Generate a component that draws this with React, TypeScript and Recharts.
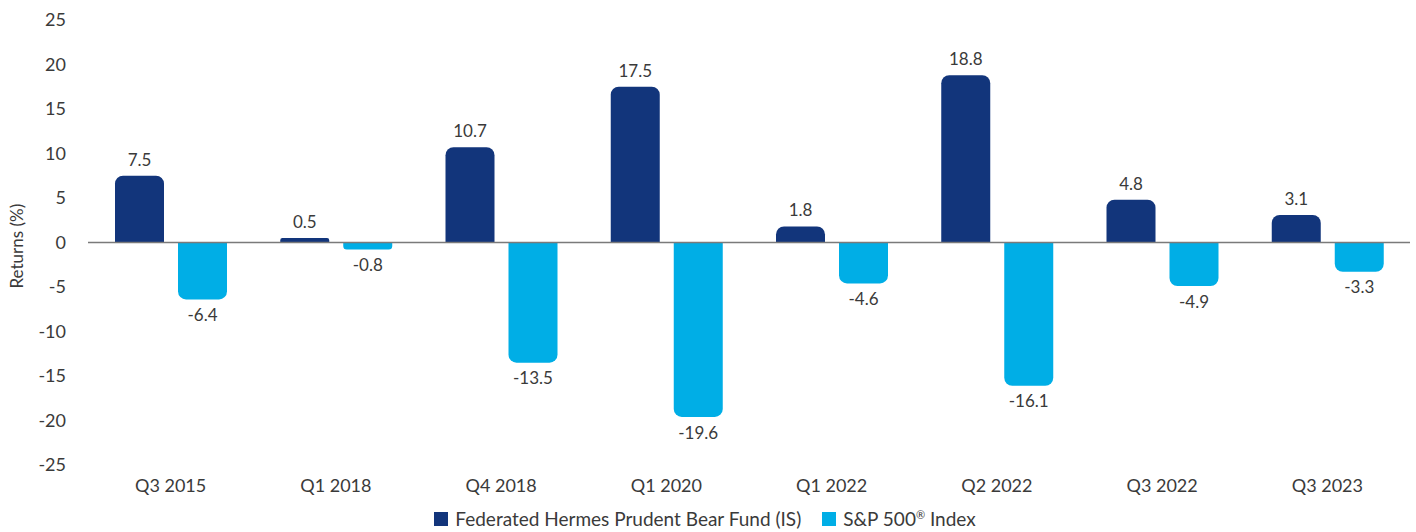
import React from 'react';
import { BarChart, Bar, XAxis, YAxis, ReferenceLine, Legend, LabelList } from 'recharts';

document.body.style.margin = '0';

const quarters = ['Q3 2015', 'Q1 2018', 'Q4 2018', 'Q1 2020', 'Q1 2022', 'Q2 2022', 'Q3 2022', 'Q3 2023'];
const bearFund = [7.5, 0.5, 10.7, 17.5, 1.8, 18.8, 4.8, 3.1];
const sp500 = [-6.4, -0.8, -13.5, -19.6, -4.6, -16.1, -4.9, -3.3];
const yTicks = [-25, -20, -15, -10, -5, 0, 5, 10, 15, 20, 25];

const data = quarters.map((q, i) => ({ quarter: q, fund: bearFund[i], index: sp500[i] }));

const FONT = 'Lato, "Open Sans", sans-serif';
const TEXT = '#3a3a3a';
const DARK = '#12357b';
const LIGHT = '#00aee6';

const renderLabel = (props: any) => {
  const { x, y, width, height, value } = props;
  const top = Math.min(y, y + height);
  const bottom = Math.max(y, y + height);
  const pos = value >= 0;
  return (
    <text
      x={x + width / 2}
      y={pos ? top - 10 : bottom + 8}
      dominantBaseline={pos ? 'auto' : 'hanging'}
      textAnchor="middle"
      fill={TEXT}
      fontSize={17}
      fontFamily={FONT}
    >
      {value.toFixed(1)}
    </text>
  );
};

// legend with a superscript ® on the index name
const renderLegend = () => (
  <div style={{ display: 'flex', justifyContent: 'center', alignItems: 'center', fontSize: 19, color: TEXT, fontFamily: FONT }}>
    <span style={{ display: 'inline-block', width: 14, height: 14, background: DARK, marginRight: 7 }} />
    <span style={{ marginRight: 21 }}>Federated Hermes Prudent Bear Fund (IS)</span>
    <span style={{ display: 'inline-block', width: 14, height: 14, background: LIGHT, marginRight: 7 }} />
    <span>
      S&amp;P 500<sup style={{ fontSize: 11 }}>®</sup> Index
    </span>
  </div>
);

export default function App() {
  return (
    <div style={{ fontFamily: FONT }}>
      <BarChart
        width={1416}
        height={532}
        data={data}
        margin={{ top: 20, right: 6, bottom: 2, left: 0 }}
        barCategoryGap={27}
        barGap={14}
      >
        <XAxis
          dataKey="quarter"
          axisLine={false}
          tickLine={false}
          tick={{ fill: TEXT, fontSize: 18, fontFamily: FONT }}
          tickMargin={8}
          height={30}
        />
        <YAxis
          domain={[-25, 25]}
          ticks={yTicks}
          interval={0}
          axisLine={false}
          tickLine={false}
          width={88}
          tickMargin={16}
          tick={{ fill: TEXT, fontSize: 18, fontFamily: FONT }}
          label={{
            value: 'Returns (%)',
            angle: -90,
            position: 'insideLeft',
            offset: 17,
            dy: 46,
            fill: TEXT,
            fontSize: 17,
            fontFamily: FONT,
          }}
        />
        <ReferenceLine y={0} stroke="#7a7a7a" strokeWidth={1.5} />
        <Legend
          verticalAlign="bottom"
          align="center"
          wrapperStyle={{ paddingTop: 12 }}
          content={renderLegend}
        />
        <Bar dataKey="fund" name="Federated Hermes Prudent Bear Fund (IS)" fill={DARK} radius={[8, 8, 0, 0]} isAnimationActive={false}>
          <LabelList dataKey="fund" content={renderLabel} />
        </Bar>
        <Bar dataKey="index" name="S&P 500® Index" fill={LIGHT} radius={[8, 8, 0, 0]} isAnimationActive={false}>
          <LabelList dataKey="index" content={renderLabel} />
        </Bar>
      </BarChart>
    </div>
  );
}
